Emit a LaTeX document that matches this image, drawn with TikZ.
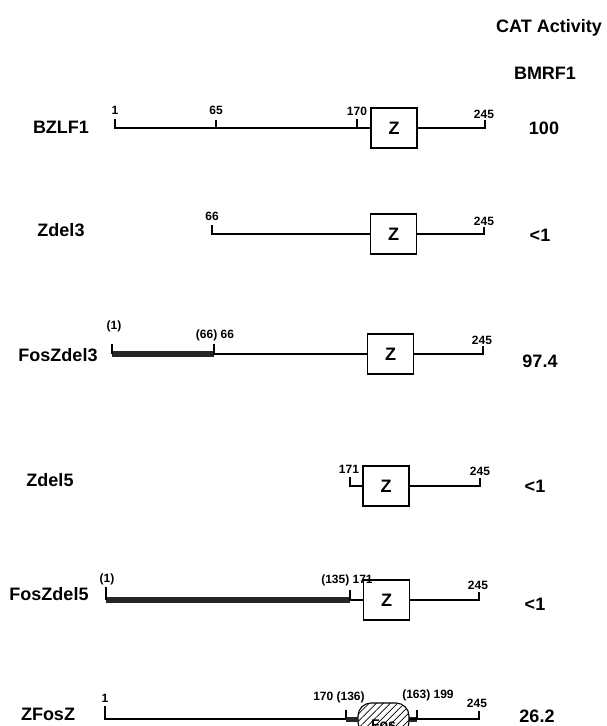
\documentclass[tikz,border=0pt]{standalone}
\usepackage{fontspec}
\setmainfont{Liberation Sans}
\usetikzlibrary{patterns.meta}
\tikzset{
  seq/.style={line width=1.1pt},
  fosbar/.style={line width=6pt,black!85},
  zbox/.style={draw,line width=1.5pt,minimum width=46pt,minimum height=40pt,inner sep=0pt,font=\bfseries\fontsize{18}{18}\selectfont},
  fosbox/.style={draw,line width=1.1pt,rounded corners=13pt,minimum width=51pt,minimum height=32pt,inner sep=0pt,pattern={Lines[angle=45,distance=5pt,line width=0.7pt]}},
  fostxt/.style={inner sep=0pt,font=\bfseries\fontsize{14}{14}\selectfont},
  num/.style={inner sep=0pt,font=\bfseries\fontsize{12}{12}\selectfont},
  rowname/.style={inner sep=0pt,font=\bfseries\fontsize{18}{18}\selectfont},
  val/.style={inner sep=0pt,font=\bfseries\fontsize{18}{18}\selectfont},
}

\begin{document}
\begin{tikzpicture}[x=1pt,y=-1pt]
  \clip (0,0) rectangle (607,726);
  \node[rowname] (cat) at (549,28) {CAT Activity};
  \node[rowname] (bmrf) at (545,73) {BMRF1};

  % BZLF1
  \node[rowname] (bzlf) at (61,127) {BZLF1};
  \node[zbox] (bz) at (394,128) {Z};
  \coordinate (b1) at (115,119);
  \coordinate (b65) at (216,120);
  \coordinate (b170) at (357,119);
  \coordinate (b245) at (485,120);
  \draw[seq] (b1) |- (bz.west);
  \draw[seq] (b65) -- (b65 |- bz.west);
  \draw[seq] (b170) -- (b170 |- bz.west);
  \draw[seq] (bz.east) -| (b245);
  \node[num] (b1n) at (115,110) {1};
  \node[num] (b65n) at (216,110) {65};
  \node[num] (b170n) at (357,111) {170};
  \node[num] (b245n) at (484,114) {245};
  \node[val] (bzv) at (544,128) {100};

  % Zdel3
  \node[rowname] (zd3) at (61,230) {Zdel3};
  \node[zbox] (dz) at (393.5,234) {Z};
  \coordinate (d66) at (212,225);
  \coordinate (d245) at (484,227);
  \draw[seq] (d66) |- (dz.west);
  \draw[seq] (dz.east) -| (d245);
  \node[num] (d66n) at (212,216) {66};
  \node[num] (d245n) at (484,221) {245};
  \node[val] (dzv) at (540,235) {<1};

  % FosZdel3
  \node[rowname] (fzd3) at (58,355) {FosZdel3};
  \node[zbox] (fz) at (390.5,354) {Z};
  \coordinate (f1) at (112,344);
  \coordinate (f66) at (214,344);
  \coordinate (f245) at (483,346);
  \draw[fosbar] (f1 |- fz.west) -- (f66 |- fz.west);
  \draw[seq] (f1) -- (f1 |- fz.west);
  \draw[seq] (f66) |- (fz.west);
  \draw[seq] (fz.east) -| (f245);
  \node[num] (f1n) at (114,326) {(1)};
  \node[num] (f66n) at (215,335) {(66) 66};
  \node[num] (f245n) at (482,340) {245};
  \node[val] (fzv) at (540,361) {97.4};

  % Zdel5
  \node[rowname] (zd5) at (50,480) {Zdel5};
  \node[zbox] (ez) at (386,486) {Z};
  \coordinate (e171) at (350,477);
  \coordinate (e245) at (480,478);
  \draw[seq] (e171) |- (ez.west);
  \draw[seq] (ez.east) -| (e245);
  \node[num] (e171n) at (349,469) {171};
  \node[num] (e245n) at (480,471) {245};
  \node[val] (ezv) at (535,486) {<1};

  % FosZdel5
  \node[rowname] (fzd5) at (49,594) {FosZdel5};
  \node[zbox] (gz) at (386.5,600) {Z};
  \coordinate (g1) at (106,587);
  \coordinate (g135) at (350,590);
  \coordinate (g245) at (479,592);
  \draw[fosbar] (g1 |- gz.west) -- (g135 |- gz.west);
  \draw[seq] (g1) -- (g1 |- gz.west);
  \draw[seq] (g135) |- (gz.west);
  \draw[seq] (gz.east) -| (g245);
  \node[num] (g1n) at (107,579) {(1)};
  \node[num] (g135n) at (347,580) {(135) 171};
  \node[num] (g245n) at (478,585) {245};
  \node[val] (gzv) at (535,604) {<1};

  % ZFosZ
  \node[rowname] (zfz) at (48,714) {ZFosZ};
  \node[fosbox] (fos) at (383.5,719) {};
  \node[fostxt] (fosl) at (383.5,725) {Fos};
  \coordinate (h1) at (105,706);
  \coordinate (h170) at (346,710);
  \coordinate (h199) at (417,710);
  \coordinate (h245) at (479,711);
  \draw[seq] (h1) |- (fos.west);
  \draw[seq] (h170) -- (h170 |- fos.west);
  \draw[fosbar,line width=5pt] (h170 |- fos.west) -- (fos.west);
  \draw[fosbar,line width=5pt] (fos.east) -- (h199 |- fos.east);
  \draw[seq] (h199) -- (h199 |- fos.east);
  \draw[seq] (fos.east) -| (h245);
  \node[num] (h1n) at (105,698) {1};
  \node[num] (h170n) at (339,697) {170 (136)};
  \node[num] (h199n) at (428,695) {(163) 199};
  \node[num] (h245n) at (477,703) {245};
  \node[val] (fosv) at (537,716) {26.2};
\end{tikzpicture}
\end{document}
